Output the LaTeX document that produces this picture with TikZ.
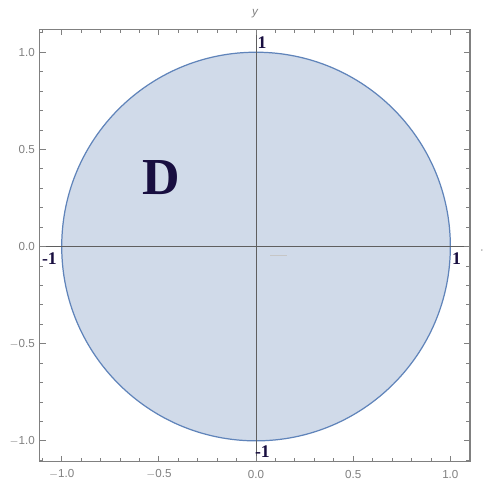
\documentclass[tikz,border=0pt]{standalone}
\usepackage{fontspec}
\setmainfont{Liberation Serif}
\setsansfont{Liberation Sans}
\usepackage{tikz}
\usetikzlibrary{positioning,calc}

\definecolor{diskfill}{RGB}{208,218,233}
\definecolor{diskline}{RGB}{96,132,186}
\definecolor{framegray}{RGB}{128,128,128}
\definecolor{axisgray}{RGB}{95,95,95}
\definecolor{labelnavy}{RGB}{24,14,64}

\begin{document}
\begin{tikzpicture}[x=5cm, y=5cm,
        ticklabel/.style={font=\sffamily\fontsize{8.5}{9}\selectfont, text=framegray, inner sep=0pt},
        pointlabel/.style={font=\bfseries\fontsize{13}{14}\selectfont, text=labelnavy, inner sep=0pt}]
        \useasboundingbox (-1.3176,-1.1966) rectangle (1.168,1.2687);

        % disk
        \fill[diskfill] (0,0) circle (1);
        \draw[diskline, line width=0.9pt] (0,0) circle (1);

        % axes
        \draw[axisgray, line width=0.7pt] (-1.114,0) -- (1.101,0);
        \draw[axisgray, line width=0.7pt] (0,-1.1076) -- (0,1.118);

        % frame and ticks
        \draw[framegray, line width=0.8pt] (-1.114,-1.1076) rectangle (1.101,1.118);
        \foreach \t in {-1.1,-0.9,-0.8,-0.7,-0.6,-0.4,-0.3,-0.2,-0.1,0.1,0.2,0.3,0.4,0.6,0.7,0.8,0.9,1.1} {
            \draw[framegray, line width=0.6pt] (\t,-1.1076) -- ++(0,0.018);
            \draw[framegray, line width=0.6pt] (\t,1.118) -- ++(0,-0.018);
            \draw[framegray, line width=0.6pt] (-1.114,\t) -- ++(0.018,0);
            \draw[framegray, line width=0.6pt] (1.101,\t) -- ++(-0.018,0);
        }
        \foreach \t/\lab in {-1/{$-$1.0},-0.5/{$-$0.5},0/0.0,0.5/0.5,1/1.0} {
            \draw[framegray, line width=0.6pt] (\t,-1.1076) -- ++(0,0.031);
            \draw[framegray, line width=0.6pt] (\t,1.118) -- ++(0,-0.031);
            \draw[framegray, line width=0.6pt] (-1.114,\t) -- ++(0.031,0);
            \draw[framegray, line width=0.6pt] (1.101,\t) -- ++(-0.031,0);
            \node[ticklabel, anchor=east] (yt\t) at (-1.137,\t) {\lab};
            \node[ticklabel] (xt\t) at (\t,-1.172) {\lab};
        }

        % labels
        \node[font=\sffamily\itshape\fontsize{8.5}{9}\selectfont, text=framegray] (ylab) at (-0.005,1.197) {y};
        \node[font=\bfseries\fontsize{38}{40}\selectfont, text=labelnavy, inner sep=0pt] (dname) at (-0.489,0.3525) {D};
        \node[pointlabel] (top) at (0.031,1.047) {1};
        \node[pointlabel] (left) at (-1.063,-0.062) {-1};
        \node[pointlabel] (right) at (1.032,-0.064) {1};
        \node[pointlabel] (bottom) at (0.033,-1.058) {-1};

        % stray marks
        \draw[framegray!45, line width=0.8pt] (0.072,-0.044) -- (0.158,-0.044);
        \fill[framegray] (1.162,-0.018) circle (0.004);
    \end{tikzpicture}
\end{document}
